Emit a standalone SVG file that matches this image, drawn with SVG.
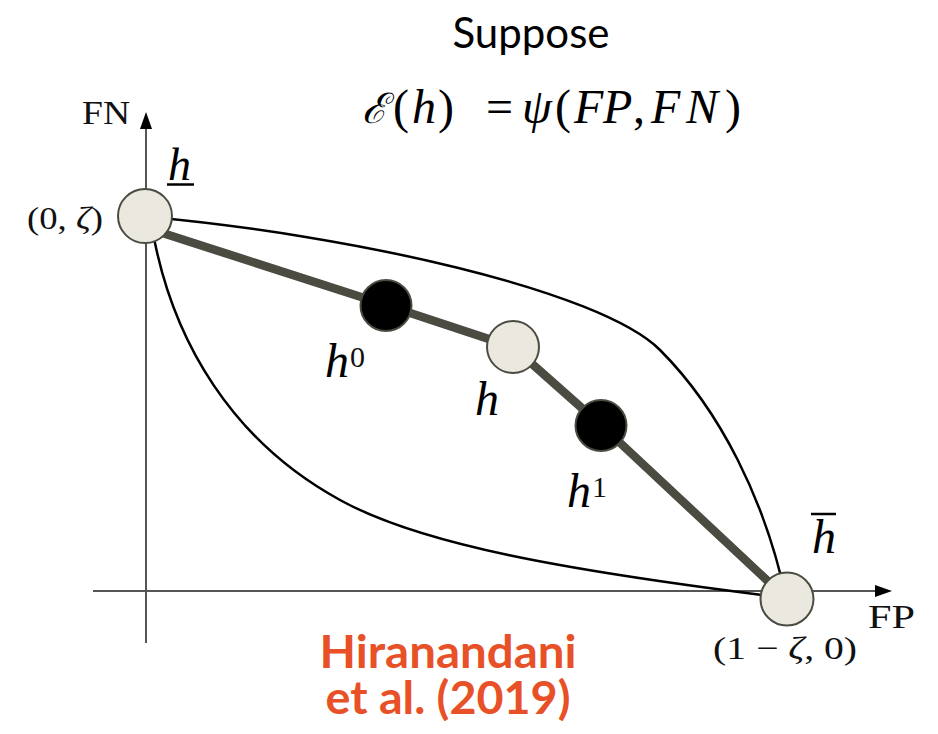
<svg xmlns="http://www.w3.org/2000/svg" width="938" height="734" viewBox="0 0 938 734">
<style>
.axis{stroke:#555;stroke-width:2;fill:none}
.curve{stroke:#000;stroke-width:2.5;fill:none}
.thick{stroke:#4b4b42;stroke-width:8.5;fill:none;stroke-linejoin:round}
.light{fill:#ebe9df;stroke:#4b4b42;stroke-width:2}
.dark{fill:#000;stroke:#4b4b42;stroke-width:2}
.cm{font-family:"Liberation Serif","DejaVu Serif",serif;fill:#111}
.mi{font-family:"Liberation Serif","DejaVu Serif",serif;font-style:italic;fill:#000}
.math{font-family:"Liberation Serif","DejaVu Serif",serif;fill:#000}
.title{font-family:Lato,"Open Sans",sans-serif;fill:#000}
.cite{font-family:Lato,"Open Sans",sans-serif;font-weight:bold;fill:#e85127}
</style>
<rect width="938" height="734" fill="#fff"/>
<g id="title">
<text class="title" x="531" y="48" font-size="42" text-anchor="middle">Suppose</text>
<text class="math" y="123" font-size="48"><tspan x="362" font-family="'DejaVu Serif',serif" font-style="italic" font-size="42">ℰ</tspan><tspan x="393">(</tspan><tspan x="412" font-style="italic">h</tspan><tspan x="438">)</tspan><tspan x="486">=</tspan><tspan x="522" font-style="italic">ψ</tspan><tspan x="555">(</tspan><tspan x="574" font-style="italic">F</tspan><tspan x="603" font-style="italic">P</tspan><tspan x="633">,</tspan><tspan x="651" font-style="italic">F</tspan><tspan x="686" font-style="italic">N</tspan><tspan x="725">)</tspan></text>
</g>
<g id="axes">
<line class="axis" x1="146" y1="643" x2="146" y2="126"/>
<polygon points="146,112 140,129 152,129" fill="#000"/>
<line class="axis" x1="93" y1="591" x2="878" y2="591"/>
<polygon points="892,591 875,585 875,597" fill="#000"/>
<text class="cm" x="82" y="124" font-size="34" textLength="48" lengthAdjust="spacingAndGlyphs">FN</text>
<text class="cm" x="868" y="628" font-size="34" textLength="47" lengthAdjust="spacingAndGlyphs">FP</text>
</g>
<g id="connectors">
<path class="curve" d="M150,217 C350,235 600,290 660,350 C720,410 765,500 786,598"/>
<path class="curve" d="M150,228 C153,235 154,239 155,243 C175,340 230,440 340,500 C420,544 560,570 786,598"/>
<path class="thick" d="M147,228 L386,305 L513,347 L601,425 L787,599"/>
</g>
<g id="node-hlow">
<circle class="light" cx="145" cy="216" r="27"/>
<text class="mi" x="168" y="180" font-size="46">h</text>
<line x1="167" y1="184.5" x2="194" y2="184.5" stroke="#000" stroke-width="2.5"/>
<text class="cm" x="27" y="229" font-size="32" textLength="76" lengthAdjust="spacingAndGlyphs">(0, <tspan font-style="italic">ζ</tspan>)</text>
</g>
<g id="node-h0">
<circle class="dark" cx="386" cy="305.5" r="25.5"/>
<text class="mi" x="325" y="377" font-size="48">h</text>
<text class="cm" x="350" y="367" font-size="30" fill="#000">0</text>
</g>
<g id="node-h">
<circle class="light" cx="513" cy="347" r="26"/>
<text class="mi" x="475" y="415" font-size="48">h</text>
</g>
<g id="node-h1">
<circle class="dark" cx="601" cy="425.5" r="25.5"/>
<text class="mi" x="567" y="507" font-size="48">h</text>
<text class="cm" x="592" y="497" font-size="30" fill="#000">1</text>
</g>
<g id="node-hbar">
<circle class="light" cx="787" cy="599" r="26.5"/>
<text class="mi" x="812" y="553" font-size="48">h</text>
<line x1="811" y1="514" x2="836" y2="514" stroke="#000" stroke-width="2.5"/>
<text class="cm" x="713" y="659" font-size="32" textLength="144" lengthAdjust="spacingAndGlyphs">(1 − <tspan font-style="italic">ζ</tspan>, 0)</text>
</g>
<g id="citation">
<text class="cite" x="448" y="668" font-size="45" text-anchor="middle" textLength="257" lengthAdjust="spacingAndGlyphs">Hiranandani</text>
<text class="cite" x="448" y="714" font-size="45" text-anchor="middle" textLength="245" lengthAdjust="spacingAndGlyphs">et al. (2019)</text>
</g>
</svg>
